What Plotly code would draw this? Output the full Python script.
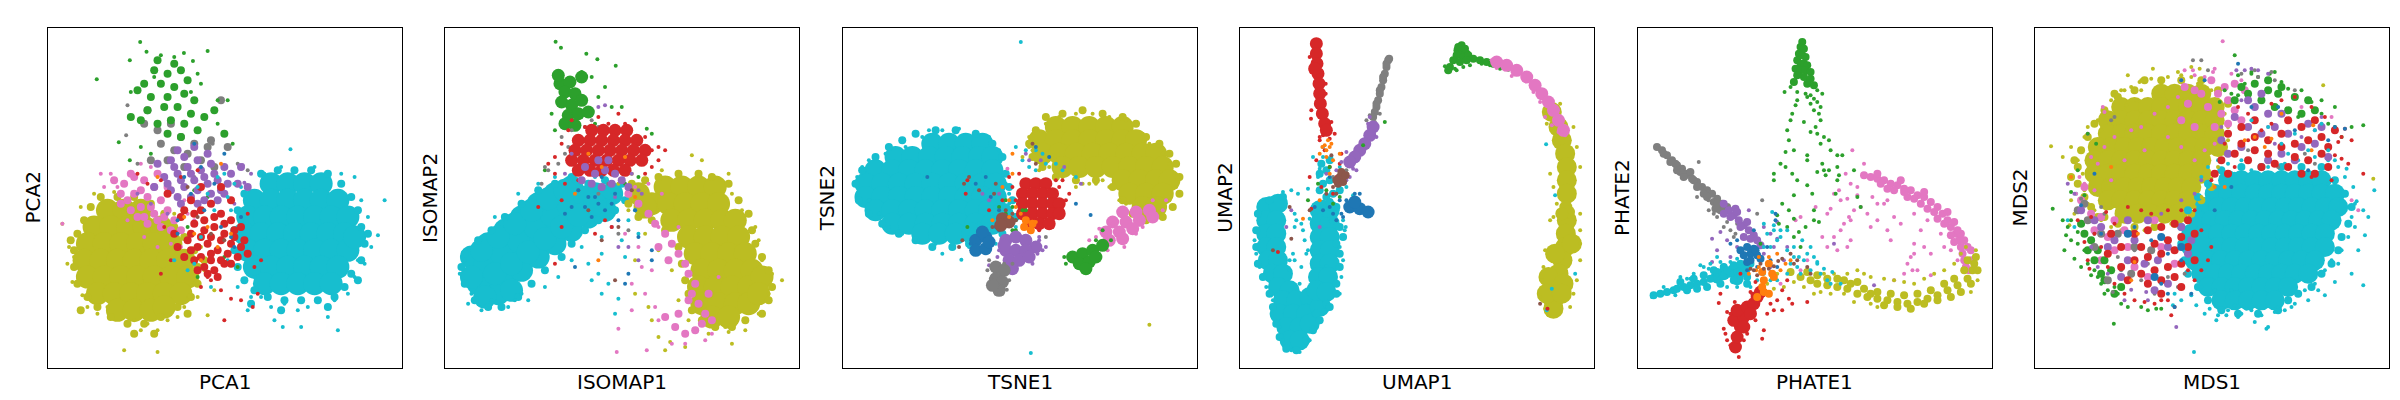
import plotly.graph_objects as go

# ---------------- colours (matplotlib tab10) ----------------
COLORS = {"blue": "#1f77b4", "orange": "#ff7f0e", "green": "#2ca02c", "red": "#d62728",
          "purple": "#9467bd", "brown": "#8c564b", "pink": "#e377c2", "gray": "#7f7f7f",
          "olive": "#bcbd22", "cyan": "#17becf"}

PANEL_NAMES = ["PCA", "ISOMAP", "TSNE", "UMAP", "PHATE", "MDS"]

# Embedding coordinates (arbitrary units, y grows downward).
# ---------------- PCA ----------------
pca_olive_big = [(18,55),(23,55),(28,55),(14,60),(19,60),(24,60),(29,60),(34,60),
    (12,65),(17,65),(22,65),(27,65),(32,65),(37,65),(11,70),(16,70),(21,70),(26,70),(31,70),(36,70),(41,70),
    (12,75),(17,75),(22,75),(27,75),(32,75),(37,75),(42,75),(15,80),(20,80),(25,80),(30,80),(35,80),(40,80),
    (21,85),(26,85),(31,85),(35,84)]
pca_olive_fringe = [(16,51),(21,51),(26,51),(31,53),(35,56),(38,60),(41,63),(44,67),(45,72),(45,77),(43,81),(39,84),
    (34,87),(29,89),(24,89),(19,87),(15,84),(12,81),(9,77),(8,72),(8,67),(9,62),(11,58),(13,54),(7,64),(10,85),(47,70),
    (42,86),(26,92),(32,92)]
pca_olive_dot = [(4.5,59),(7.5,76.5),(23,97),(33,97.5),(33,91),(48,86.5),(6.5,66),(10.5,80.5),(9,62),(14,50),
    (20,49.5),(26,88),(36,88),(41,84),(44,77),(47,73),(46,66),(10,54),(15,86),(28,91),(6,71),(38,56),(42,82),(50,79),
    (24,89),(30,89),(18,84),(8,69),(45,81),(39,87),(12,84)]
pca_cyan_big = [(67,47),(72,47),(77,47),(82,47),(62,52),(67,52),(72,52),(77,52),(82,52),(87,52),
    (60,57),(65,57),(70,57),(75,57),(80,57),(85,57),(90,57),(59,62),(64,62),(69,62),(74,62),(79,62),(84,62),(89,62),
    (60,67),(65,67),(70,67),(75,67),(80,67),(85,67),(90,67),(62,72),(67,72),(72,72),(77,72),(82,72),(87,72),
    (65,77),(70,77),(75,77),(80,77),(85,77),(92,63)]
pca_cyan_fringe = [(64,44),(69,43),(74,43),(79,43),(84,44),(88,47),(91,51),(93,55),(94,60),(95,65),(94,70),(91,74),
    (89,78),(86,81),(81,82),(76,82),(71,82),(66,81),(62,79),(59,76),(57,72),(56,67),(56,61),(57,55),(59,50),(96,62),
    (93,76),(84,84),(70,85),(61,83)]
pca_cyan_dot = [(72.8,36.7),(101,52),(99,62.5),(87,91),(70.5,90),(60,85),(94,52),(97,66),(92,75),(90,80),(81,82),
    (75,85),(67,84),(64,81),(92,45),(88,44),(80,42),(70,42),(65,44),(58,48),(55,55),(54,70),(57,78),(84,87),(94,60),
    (76,90),(71,83),(95,71),(62,75),(96,57),(93,70),(78,84),(86,82),(61,81),(68,88)]
pca_pink_mid = [(20,46),(23,47),(26,45),(29,46),(32,48),(22,50),(26,50),(30,51),(34,52),(28,54),(32,56),(36,55),
    (30,59),(34,60),(38,58),(27,57),(40,61),(25,44),(33,44),(36,48),(22,53),(25,55),(29,57),(33,58),(37,61),(24,52),
    (28,49),(31,54),(35,57)]
pca_pink_dot = [(16,44),(19,44),(4.5,59),(21,48),(17,48),(24,58),(29,63),(33,66),(37,65),(42,56),(31,42),(28,41),
    (41,52),(44,58),(40,66)]
pca_gray_mid = [(29,29),(33,31),(37,29),(40,33),(44,35),(34,35),(38,37),(42,38),(46,40),(49,34),(52,22),(30,25),
    (50,42),(36,40),(31,40),(48,36),(41,42),(54,36)]
pca_gray_dot = [(24,23.5),(23.6,32.5),(52.2,21.7),(49.5,35),(57,41),(44,45),(27,41),(55,44),(60,43)]
pca_green_mid = [(33,10),(38,11),(32,13),(36,14),(40,13),(42,16),(29,17),(34,17),(38,18),(27,19),(31,21),(36,21),
    (41,20),(44,22),(30,25),(35,24),(39,24),(43,26),(47,27),(28,28),(33,29),(37,28),(41,29),(45,31),(36,32),(40,33),
    (50,25),(53,32),(25,27)]
pca_green_dot = [(27.8,4.5),(14.8,15.7),(29.7,7.4),(40.9,7.8),(48,7.2),(24.7,10),(21.4,34.6),(24.7,40),(43.6,10.2),
    (46,17),(51,22),(54,22),(55.5,35),(25,19.5),(34,8.5),(51,29),(28,36),(31,38),(43,19.5),(45,14),(38,9),(32,15),
    (40,46),(44,49),(48,51),(53,69),(45,75),(42,60),(57,72)]
pca_purple_mid = [(33,41),(37,40),(41,39),(45,40),(49,41),(53,42),(35,45),(39,44),(43,44),(47,45),(51,46),(55,44),
    (37,49),(41,48),(45,49),(49,50),(53,50),(58,42),(60,48),(40,53),(45,53),(32,48),(39,37),(44,36),(48,38),
    (38,42),(42,42),(46,43),(50,44),(54,47),(36,47),(40,46),(44,46),(48,47),(52,49),(57,47),(39,51),(43,51),(47,52),(51,52)]
pca_purple_dot = [(58.5,41.5),(59,46.7),(61,44),(56,53),(31,53),(27,50),(36,56)]
pca_red_mid = [(43,52),(46,55),(49,53),(52,56),(55,58),(44,59),(47,61),(50,60),(53,62),(56,63),(59,64),(42,64),
    (45,66),(48,65),(51,67),(54,68),(57,69),(44,70),(47,72),(50,73),(53,71),(40,57),(38,62),(46,48),(36,50),(52,48),
    (55,52),(58,60),(60,68),(49,70),(41,55),(44,56),(47,58),(50,57),(53,59),(56,61),(43,62),(46,63),(49,63),(52,64),
    (55,65),(58,66),(43,67),(46,69),(49,68),(52,70),(55,71),(48,74),(45,73),(51,75),(39,66),(41,69)]
pca_red_dot = [(53,88),(55,81.5),(61.5,84),(58,82),(63,80),(49,76),(52,79),(46,78),(62,72),(64,70),(27,44),(30,47),
    (34,46),(40,45),(45,43),(48,75),(37,70),(35,60),(34,74),(60,56)]
pca_blue_dot = [(44,35),(46,42),(50,47),(47,55),(52,60),(55,63),(58,57),(43,50),(39,62),(56,66),(41,45),(53,38),(39,58)]
pca_cyan_mix = [(45,48),(48,50),(50,55),(46,63),(54,51),(51,45),(44,71),(42,73),(49,78),(38,70),(56,47),(53,44)]
pca_orange_dot = [(52,41),(41,57),(48,60),(44,62),(55,62),(51,66),(33,45),(46,70)]
pca_brown_dot = [(45,57),(49,62),(42,48),(53,64)]

# ---------------- ISOMAP ----------------
iso_cyan_big = [(10,73),(15,70),(20,66),(25,62),(30,58),(35,55),(40,52),(45,50),(50,50),
    (8,69),(13,65),(18,61),(23,57),(28,53),(33,50),(38,48),
    (13,78),(18,76),(23,73),(28,69),(33,65),(38,61),(43,57),(48,55),(16,80),(10,77),(20,79),
    (12,71.5),(17,68),(22,64),(27,60),(32,56.5),(37,53.5),(42,51),(15,74),(20,71),(25,67.5),(30,63.5),(35,60),
    (40,56.5),(45,53),(11,67),(16,63),(21,59),(26,55),(31,51.5),(36,49),(12,81),(8,75)]
iso_cyan_fringe = [(5,72),(6,77),(9,82),(13,84),(17,84),(22,81),(26,77),(30,73),(35,69),(38,65),(42,61),(46,58),
    (51,55),(54,52),(53,47),(48,46),(43,47),(38,45),(33,47),(28,49),(23,53),(18,57),(14,61),(10,64),(6,68)]
iso_cyan_dot = [(4.5,74),(7,83),(11,85),(19,84),(25,82),(46,74),(52,81.5),(54,69),(34,75),(38,70),(41,66),(47,63),
    (50,60),(55,58),(30,78),(43,71),(49,77),(53,64),(57,55),(8,80),(6,70),(15,57),(22,50),(28,47),(33,45),(40,43),
    (45,45),(21,82),(14,82),(23,80),(48,52),(37,55),(47,68),(58,62),(44,76),(51,86),(47,80)]
iso_olive_big = [(66,48),(71,48),(76,48),(81,48),(62,53),(67,53),(72,53),(77,53),(82,53),
    (68,58),(73,58),(78,58),(83,58),(87,58),(73,63),(78,63),(83,63),(88,63),(75,68),(80,68),(85,68),(90,68),
    (77,73),(82,73),(87,73),(92,73),(76,78),(81,78),(86,78),(91,78),(77,83),(82,83),(87,83),(91,83),
    (80,87),(85,87),(58,50),(60,54),(95,75),(94,80)]
iso_olive_fringe = [(64,45),(70,44),(76,44),(80,45),(85,47),(88,52),(91,56),(92,61),(93,65),(95,69),(97,73),(98,78),
    (97,82),(95,86),(90,88),(86,90),(81,90),(77,88),(74,85),(73,80),(72,76),(71,71),(70,66),(66,61),(62,58),(58,57),
    (55,53),(56,47),(60,46)]
iso_olive_dot = [(101,76),(85,44),(74,38.5),(77,40),(66,97),(67.5,94.5),(61,84),(57,70),(55,55),(52,47),(56,44),
    (65,43),(86,50),(89,55),(93,60),(95,70),(97,80),(94,86),(90,91),(84,90),(79,92),(73,88),(70,82),(64,67),(68,73),
    (60,62),(94,64),(64,93),(72,96),(86,95),(62,88),(57,80),(85,91.5),(98,74)]
iso_pink_mid = [(55,50),(58,53),(61,56),(63,59),(66,62),(68,65),(70,68),(72,71),(73,74),(75,77),(74,80),(76,83),
    (78,86),(77,89),(75,91),(72,92),(69,90),(66,87),(70,86),(73,82),(67,70),(64,66),(79,80),(80,88)]
iso_pink_dot = [(52,90.5),(51.5,97.5),(60.5,97),(56,77),(58,66),(54,62),(60,80),(62,73),(70,60),(63,84),(72,95),
    (80,92),(82,75),(64,88),(68,95),(78,94),(56,85),(64,60),(59,72),(50,60),(57,48),(61,47),(65,50)]
iso_green_med = [(34.5,17),(37.5,16.5),(36,19.5),(39,20),(35,22.5),(38,23.5),(41,22),(37,26.5),(40,26),(43,25.5),
    (36,29),(39,29.5),(41,15),(34,14.5)]
iso_green_dot = [(33.2,4.4),(34.8,6.2),(42.4,8),(45.7,9.7),(51.2,11.6),(48,18),(44,15),(41,13.5),(53,24),(50,24),
    (32,26),(33,31),(46,21),(45,29),(30,43),(40,38),(60.5,30.5),(62,32),(54,47),(58,45)]
iso_gray_dot = [(35,33),(38,31),(42,30),(44,28),(46,30),(48,32),(36,38),(34,41),(30,42),(29,47),(43,35),(50,37),
    (54,35),(53,46),(55,61),(52,62),(49,47),(46,50),(40,49),(37,36),(44,32),(31,43)]
iso_red_med = [(44,31),(47.5,31),(51,31),(54.5,31),(40,34),(43.5,34),(47,34),(50.5,34),(54,34),(57.5,34),
    (39,37),(42.5,37),(46,37),(49.5,37),(53,37),(56.5,37),(60,37),(38,40),(41.5,40),(45,40),(48.5,40),(52,40),
    (55.5,40),(59,40),(40,43),(43.5,43),(47,43),(50.5,43),(54,43)]
iso_red_dot = [(31,41),(33,39),(35,35),(37,31),(54,29),(58,35),(62,37),(64,36),(66,37),(60,33),(61,38),(52,26),
    (57,28),(49,29),(46,27),(42,30),(38,28),(33,44),(36,47),(60,44),(62,42),(64,40),(59,41),(40,46),(35,52),(28,54),
    (48,58),(50,60),(45,62),(35,60),(33,71)]
iso_purple_mid = [(42,42),(45,44),(48,43),(51,44),(44,47),(47,48),(50,47),(53,46),(41,46),(49,40),(46,40),(55,48)]
iso_purple_dot = [(48,23.5),(46,24),(38,38),(36,44),(56,44),(58,49),(51,51),(55,66),(58,70),(52,66),(59,50)]
iso_blue_dot = [(40,49),(43,51),(46,53),(48,55),(45,51),(50,53),(39,72),(55,74),(54,77),(62,70),(58,63),(52,58),
    (44,57),(42,54),(38,54),(36,56),(47,45),(51,50),(57,55),(62,67)]
iso_orange_dot = [(39,50),(46,70),(43,38),(54,39),(47,42),(57,51)]
iso_brown_dot = [(51,76),(47,64),(52,60),(43,55),(56,49)]

# ---------------- TSNE ----------------
tsne_cyan_big = [(27,35),(32,35),(37,35),(42,35),(16,39),(21,39),(26,39),(31,39),(36,39),(41,39),(45,39),
    (10,43),(15,43),(20,43),(25,43),(30,43),(35,43),(40,43),(45,43),
    (7,47),(12,47),(17,47),(22,47),(27,47),(32,47),(37,47),(42,47),(46,47),
    (7,51),(12,51),(17,51),(22,51),(27,51),(32,51),(37,51),(42,51),(46,51),
    (10,55),(15,55),(20,55),(25,55),(30,55),(35,55),(40,55),(44,55),(48,56),
    (15,59),(20,59),(25,59),(30,59),(35,59),(40,59),(45,59),(24,62),(29,62),(34,62),(39,62)]
tsne_cyan_fringe = [(22,32),(28,31),(34,31),(40,32),(45,35),(48,39),(49,44),(50,48),(51,52),(52,57),(48,62),(43,63),
    (38,65),(33,66),(27,66),(22,64),(17,62),(12,59),(8,56),(5,52),(4,47),(6,43),(10,39),(14,36),(18,34)]
tsne_cyan_dot = [(53.5,4.5),(56.5,97.8),(30,68),(35.7,69.8),(4.5,45),(6,42),(8,52),(11,56),(14,60),(18,62),(22,64),
    (28,65),(33,65),(38,63),(43,62),(47,60),(51,57),(53,54),(49,44),(47,37),(44,33),(40,32),(35,30.5),(30,31),(24,33),
    (19,36),(13,38),(8,40),(26,31),(50,50),(46,65),(38,66),(54,40),(56,42),(58,43),(60,38),(61,41),(58,47),(55,58),
    (52,60),(48,63),(42,66),(57,52),(50,53),(62,52),(66,43),(70,45),(64,41),(58,37),(55,37),(52,36),(48,58),(45,57),
    (41,59),(44,51),(46,54),(49,47)]
tsne_olive_big = [(64,30),(69,30),(74,30),(79,30),(84,30),(59,34),(64,34),(69,34),(74,34),(79,34),(84,34),(88,34),
    (60,38),(65,38),(70,38),(75,38),(80,38),(85,38),(90,38),(94,38),(66,42),(71,42),(76,42),(81,42),(86,42),(91,42),
    (96,42),(84,46),(89,46),(94,46),(98,46),(86,50),(91,50),(96,50),(90,54),(94,54)]
tsne_olive_fringe = [(61,27),(66,26),(72,25),(78,26),(84,27),(88,29),(91,33),(95,35),(98,38),(100,41),(101,45),
    (101,50),(99,54),(96,57),(91,58),(87,56),(84,52),(81,48),(76,46),(70,46),(64,45),(60,42),(57,39),(56,35),(58,31)]
tsne_olive_dot = [(92,89.3),(56,33),(57,37),(58,40),(62,42),(66,45),(72,47),(76,47),(80,48),(83,52),(87,56),(91,57),
    (95,56),(98,52),(100,48),(101,45),(98,41),(96,38),(92,35),(90,32),(87,29),(85,28),(80,27),(75,26),(70,26),(65,27),
    (61,29),(58,31),(56,36),(74,47),(78,46),(59,43),(54,39),(85,53),(96,54),(70,48)]
tsne_red_med = [(55,47),(58,47),(61,47),(54,50),(57,50),(60,50),(63,50),(54,53),(57,53),(60,53),(63,53),(65,53),
    (54,56),(57,56),(60,56),(63,56),(65,56),(56,59),(59,59),(62,59)]
tsne_red_dot = [(51,48),(52,52),(53,56),(55,60),(59,61),(63,60),(66,55),(67,52),(68,50),(65,48),(64,46),(53,44),
    (37.5,46),(37,50),(44,55),(47,57),(41,62),(50,45),(51,58),(48,52),(66,46)]
tsne_pink_med = [(84,55.5),(88,55.5),(92,55),(81,58.5),(85,58.5),(89,58),(93,57),(79,61.5),(83,61.5),(87,60.5),
    (80,64),(84,63.5)]
tsne_pink_dot = [(77,60.5),(78,66),(79.5,67),(93,52),(96,55),(97,52),(76,63),(88,62),(90,60),(49.5,42.5),(81,59),
    (84.5,66),(74,64)]
tsne_green_med = [(69,69),(72,68),(75,67),(78,65.5),(71,71),(74,70.5),(73,72.5),(76,69)]
tsne_green_dot = [(66.5,69),(67,71),(80.5,64),(78,61),(76,64),(51,54),(50,58),(52,61),(55,55),(37.5,60),(49,52),
    (47,54),(49,56),(52,58),(54,55),(51,61)]
tsne_blue_med = [(40,64),(43,63),(40,67),(43,66.5),(42,61.5),(44,64.5)]
tsne_blue_dot = [(38.5,65),(45,64),(47,61),(48.5,57),(46,60),(44.5,51),(43,45),(58,36),(62,39),(74.4,56.4),(70,53),
    (40,47),(25.5,45),(47,55)]
tsne_purple_med = [(49,64),(52,63),(55,64),(58,66),(49,67),(52,67),(55,67),(50,70),(53,70),(56,69),(51,72.5),(48.5,65.5)]
tsne_purple_dot = [(59,63),(60,67),(57,71),(47,67),(47,71),(58.5,68),(59,64),(61,66),(46.5,69),(44,71.5),(71.5,47),
    (66.5,42),(59.5,40),(56,40),(55,38),(42,50),(44,52),(47,50)]
tsne_gray_med = [(46,72),(48.5,73),(46,75.5),(48,76.5),(47,79),(45,77.5)]
tsne_gray_dot = [(44,70),(43.5,73),(44.5,75.5),(50,76),(49.3,78.8),(48.5,71),(61,63),(51,71),(46,80),(48,80)]
tsne_brown_med = [(48,57.5),(50,58.5),(47.5,59.5)]
tsne_brown_dot = [(45,60),(52,58),(51,56),(49,55),(35,66),(36,64),(57,35),(58,41),(36.5,47),(38,45),(41,49),(46,47),(45.5,50)]
tsne_orange_mid = [(55,58),(57,59),(54.5,60),(56.5,61)]
tsne_orange_dot = [(51,38),(51,44),(50,57),(52,54),(53.5,56),(58,58.5),(48,48),(50,52),(45,58)]

# ---------------- UMAP ----------------
umap_cyan_big = [(8,54),(11.5,53),(8,58),(11,58),(8,62),(11,62),(8,66),(11,66),(8.5,70),(11.5,70),(10,74),(13,74),
    (11.5,78),(15,79),(13,82),(17,82),(21,81),(12,86),(16,86),(20,86),(24,84),(14,90),(18,90),(21,89),(15,94),(18,94),
    (24,55),(27,55),(24,59),(27,59),(24,63),(27,63),(24,67),(27,67),(24,71),(27,71),(23.5,75),(26.5,75),(23,79),(26,79.5)]
umap_cyan_mid = [(24,44),(26,43),(27,46),(25,47),(24,49),(26,51),(28,50),(30,49),(25,53),(27,52.5),(29,54),(24.5,41),
    (27,40),(26,56),(28,58),(30,60),(31,63),(29,65),(30,68),(30,72),(29,77),(29,80),(26,83),(23,86),
    (5.5,56),(5,61),(5,66),(5.5,71),(7,75),(9,80),(10,84),(11,89),(12,93),(14,96.5),(17,97),(20,94),(22,91),(24,88),
    (27,84),(13,51),(9,52)]
umap_cyan_dot = [(13,49.5),(15.5,49),(17.5,50),(20.5,48.5),(25,36),(27.5,39),(24,42.5),(23.5,45),(22,39),(30,42),
    (32,48),(34,50.5),(31,58),(31.5,61),(30,66),(31,70),(30.5,75),(4.5,64),(5,68),(6,72),(8,78),(10,82),(12,90),(13,94),
    (15.5,97),(18,97.5),(21,94),(22,90),(25,85),(20,68),(19.5,64),(19,61),(17,58),(16.5,60),(16.5,70),(18,77),(15,73),
    (21,57.5),(18.5,72),(30,80),(31.8,60),(25,39),(26,71.7),(16.5,56),(18.5,59),(16,68),(15,70),(20.5,67),
    (91.8,35.2),(94.5,50.5),(93.5,78.5),(92,85),(100.5,74)]
umap_red_med = [(23,5),(23,8),(23.2,11),(23.5,14),(23.8,17),(24,20),(24.2,23),(24.8,26),(25.5,29),(26,31),(22.5,12.5)]
umap_red_dot = [(21.5,25),(25,32.5),(27,33.5),(28.5,32),(24,34),(25.5,37),(23,40),(27,42),(29,45),(21,45),(24.5,48),
    (28,50),(11.5,67.5),(21.5,54.5),(30,41),(30.5,38),(92.2,84.5),(24,33),(25.8,20),(21.4,27.5),(21.5,13.5),(25.8,17),
    (27.5,28.5),(21,9)]
umap_orange_dot = [(26.5,34),(27,36),(25.5,35.5),(24.8,36),(27.5,35),(26,37),(24,38),(26,39),(28,40),(30,38),(24,52),
    (19,57.5),(29,47),(27,44)]
umap_gray_mid = [(44.5,10),(44,12),(43.5,14),(43,16),(42.5,18),(42,20),(41.5,22),(41,24),(40.5,25.5),(40,27),(43,15),
    (44,11),(42,19),(41,23),(44.8,9.5)]
umap_gray_dot = [(39,26.5),(40.5,28.5),(38,28),(42,26),(31,44),(32,43),(33,41),(28,45)]
umap_purple_med = [(40,30),(39,32.5),(37.5,35),(36,37),(34.5,39),(33,40.5)]
umap_purple_dot = [(39,27),(38.5,29),(32,37.5),(30.5,40.5),(34,42.5),(31,43.5),(33,45),(26,44),(29,43),(41,33),
    (15.5,55),(14,60),(24,60),(32,46),(35,43)]
umap_green_med = [(66,7),(67.5,8.5)]
umap_green_mid = [(66.5,5.5),(66,7),(65,8.5),(67,9),(68.5,8.5),(64,10),(66,10.5),(70,9.5),(72,10),(74,10.5),(63,12),
    (62.5,13),(68,10),(76,11),(65.5,6),(67.5,6.5)]
umap_green_dot = [(64.5,12.5),(65,13),(62,13.2),(72.5,11),(75,11.5),(78,12.5),(80.5,12.8),(67,12),(69,11.5),(61.5,11.8),
    (43.5,28.5),(37,35.5),(27,42),(30,46),(23.5,47),(26,49),(20.5,52),(28,53),(30,51)]
umap_pink_med = [(77,10.5),(80,11.5),(83,13),(86,15),(88.5,17.5),(90.5,20),(92.5,22.5),(94,25),(95.5,28),(97,31)]
umap_pink_dot = [(75.5,10),(77,12.3),(95.5,31.5),(97.5,32.5),(91.5,27),(93.5,29.5),(81.5,14.7),(88,19.5),(90,22.5)]
umap_olive_big = [(93.5,25.5),(95.5,30),(96.5,34),(97.5,38),(98,42),(98,46),(98,50),(98,58),(97.7,62),(97.5,66),
    (96.7,70),(95.5,74),(94.5,78),(94,82),(94,84.5),(99.5,65),(94.5,68),(92.5,75),(97,77),(92,80),(96.5,80)]
umap_olive_med = [(97.7,54),(98.5,55.5),(96.5,56)]
umap_olive_dot = [(92,26),(94,24),(96,23),(92,29),(100,30),(101,36),(102,42),(93,44),(94,48),(95,53),(102,56),(93,58),
    (102,61),(102,65),(91.5,67),(102,70),(91,72),(101,76),(90.5,76),(100,80),(90,81),(99,84),(91.5,84.5),(92.5,86.5),
    (95.5,86),(94,57),(100,57)]
umap_blue_med = [(33,54),(36,54.5),(38.5,55.5),(34.5,52.5)]
umap_blue_dot = [(36,50),(30,52),(31,57),(28,56),(27,54),(25,55),(27,45),(22.5,54),(32,52),(30.5,56),(29,58),(34.5,50)]
umap_brown_mid = [(30,45),(31,46.5),(29.5,47),(30.5,43.5),(31.8,44.5),(29,46)]
umap_brown_dot = [(28,48),(26,50),(29,50),(21,55),(15,54),(15.5,63.5),(10,67),(90,83),(27.5,38.5)]

# ---------------- PHATE ----------------
phate_gray_mid = [(6,36),(7.5,37),(9,38.5),(10.5,40),(12,41.5),(13.5,42.5),(15,44),(16.5,45.5),(18,46.5),(19.5,48),
    (21,49),(22.5,50),(24,51.5),(25.5,53),(27,54),(11.5,41),(14.5,44.5),(17,46),(20,50),(23,52.5),(25,55),(13,43.5),
    (16,43.5),(8,38),(10,40.5),(12,43),(26,55),(24,53),(14,45),(18,48),(21,51),(23.5,54.5)]
phate_gray_dot = [(18.5,40.5),(18,51),(21.4,52),(23,56),(24,57),(26,60),(28,61),(29,63),(30,59),(37.5,52),(36,56),
    (32,59),(21.5,55),(29.5,62),(27,58.5)]
phate_purple_mid = [(26,53),(27.5,55),(29,56.5),(30.5,58),(32,59.5),(33.5,61),(35,62.5),(28,57),(31,60),(34,63.5),
    (36,64),(29.5,54.5),(33,58.5),(26,56),(30,55.5),(37,65.5),(32,63)]
phate_purple_dot = [(22.5,63.5),(25,61.5),(27,64),(24,67),(33.5,55),(38,60),(40,62),(42,63.5),(45,66),(41,66),(38,68),
    (40,72),(30,66),(28,69),(22.5,70.5),(59,65),(42,58.5),(71,77.5),(44,70)]
phate_blue_mid = [(33,66),(35,66.5),(34,68),(36,68.5),(32,68.5),(34,70),(35.5,67),(33,70.5),(37,69.5),(31,67)]
phate_blue_dot = [(35,61),(41.5,58),(41.5,56),(30,64),(39,66),(40,70),(33,73),(28,65),(36,72),(37.5,74),(42,72)]
phate_cyan_med = [(26,74),(29,73),(32,73),(30,75.5),(24,75)]
phate_cyan_mid = [(5,80.5),(7,80),(9,79.5),(11,79),(12,78.5),(14,78),(16,77.5),(18,77),(20,76.5),(22,75.5),(24,75),
    (26,74.5),(28,74),(30,73.5),(32,73),(17,75.5),(20,74.5),(23,73),(26,72),(29,71.5),(31,71),(21,78),(25,77),(29,76),
    (33,75),(27,73),(24,73.5),(13,76.5),(15,79),(18,78.5),(31,74),(34,71),(33,77)]
phate_cyan_dot = [(4.5,81),(8,78),(11.5,80.5),(13,75),(16,75.5),(17,74),(20,72),(22,71),(25,70.5),(21.5,72.5),(26,71.5),
    (28,70.5),(30,69.5),(32,68),(34,67),(36,67),(38,66),(40,66),(42,64),(41,61),(43,61),(45,67),(47,69),(48,72),(50,70),
    (51,68),(53,69),(54,71),(55,74),(57,76),(58,77),(61,77),(24,69),(24,74.5),(34,78),(36,76),(38,74),(40,76),(42,76),
    (45,74),(46,71),(49,74),(30,78),(27,78),(19,71.5),(15,75.5),(52,73),(39,62),(40.5,55.5),(38,59),(41,59.5),(43,63),
    (45,61),(47,66),(48.5,69),(52,66),(49.5,64),(54,70.5),(56,72.5),(58.5,73.5)]
phate_red_med = [(29.5,96),(30,93),(31,90),(29,88),(32,87),(30,85),(33,84),(35,83),(36,81),(32,90),(34,86),(37,79.5)]
phate_red_dot = [(24.5,82.8),(27,85.5),(28,86),(26,90.5),(26.5,92),(27,94),(28,95.5),(30.5,99),(32,94),(33,92),
    (35.5,88),(37.5,93.5),(38,91),(41,85),(43.5,85),(42,82),(40,83),(39,86),(43.5,79),(45.5,81.5),(46.5,83),(51,82.5),
    (45,76),(35.5,76.5),(34,79.5),(34.5,80),(31,74),(25,80),(29.3,82.5)]
phate_orange_mid = [(38,79.5),(39.5,80),(37.5,78),(36,81),(40.5,74),(41,75),(39.5,71),(37.5,73.5),(38,76)]
phate_orange_dot = [(35.7,73),(36.5,72),(43,73),(44.5,71),(46,70),(33.5,74),(36.5,69),(42,68),(39.5,69)]
phate_brown_dot = [(37,71),(38,72.5),(39.5,72.5),(41,71.8),(35,73),(42.3,70.2),(43.5,69.5),(46,68),(47,71),(48,70),
    (36,74.5),(34,72.5),(51,72),(52,74)]
phate_green_mid = [(49.5,4.5),(49,6),(50,6.5),(48.5,8),(49.5,8.5),(50.5,9),(48,10),(49,11),(50,11),(51,11.5),(47.5,12.5),
    (49,13),(50.5,13),(52,13.5),(48,14.5),(50,15),(52,15.5),(47,16.5),(51,17),(53,17.5)]
phate_green_dot = [(44.2,19.5),(46,18),(48,19.5),(50.5,20),(52,20.5),(54,19),(55.5,20),(48,22),(51,21),(53,21.5),
    (47.5,23.5),(52,23),(54,22.5),(55,24),(46.5,26),(53,25),(54.5,26),(46,28),(50,28.5),(55,28),(45,31),(52,31.5),(54,32),
    (56,33),(53.5,30),(45.5,34),(47,37),(44.5,37.5),(51,38.5),(57.5,34),(58,37),(55,35),(60,38.5),(61.5,38.5),(43,41),
    (44.5,42),(41,44),(51,40),(55.5,41),(56,43),(57.5,43),(60,42),(60.5,44.5),(65,43),(41,46),(46.5,44),(48,46),(51,47.5),
    (56.5,44.5),(54,43.5),(47,50.5),(52.5,50),(43.5,53),(45.5,55),(42,56.5),(47,57.5),(53,55),(53,58),(54.5,58.5),(45,60),
    (42.5,59),(49,66),(47,63),(48.5,61.5),(50.5,60),(37,65),(36.5,68.5),(34,70.5),(67,54),(66,51),(60,46),(59.5,50)]
phate_pink_mid = [(68,44.5),(70,45),(72,45.5),(74,46),(76,47),(78,47.5),(80,48.5),(82,49),(84,50.5),(86,51),(88,52.5),
    (90,54),(91.5,56),(93,58),(94,60),(95.5,62),(96.5,64),(97,66),(97.5,68),(98,70),(98.5,72),(73,47),(77,49),(81,51),
    (85,53),(89,55.5),(92,59),(95,64.5),(97,62),(99,66),(100,70),(72,44),(79,46),(86,49.5),(93,55.5),(96,61),(100,67),
    (99.5,73),(75,48.5),(83,51.5),(90,57.5),(94,62.5),(98,64),(95,58.5),(87,54.5),(80,49.5)]
phate_pink_dot = [(64.5,37),(68,41),(62.5,44),(64,47),(66,50.5),(61,52),(59,50),(58,54.5),(57,56),(49,57),(53.5,54),
    (65,55),(63.5,57),(62,59),(64,58),(70.5,51),(72,53),(74,53),(77,57),(79,59),(83,56),(85,61),(87,58),(91,62),(86,66),
    (83,65),(88,68),(92,66),(94,67),(96,70),(82,69),(81,71),(84,73),(80,74),(77,76),(61,61),(59,63),(57,66),(63,66),
    (67,54),(69,56),(72,58),(75,61),(76,64),(60,67),(70,60),(83,68),(82.5,73),(88,74.5),(55.5,63),(64,64),(51,70),(49,73),
    (46,74),(43,77),(47.5,58),(60.5,49),(63,51.5),(75,52),(66,48)]
phate_olive_mid = [(54,77),(57,77.5),(60,78),(63,78.5),(66,80),(69,81),(72,81.5),(75,82),(78,82.5),(81,83),(84,82.5),
    (87,81.5),(90,80.5),(93,79),(96,77.5),(99,75.5),(100.5,73),(101,71),(64,77),(68,78.5),(72,79.5),(76,80),(80,80.5),
    (84,80),(88,79),(92,77),(95,75.5),(98,73),(99,70),(101.5,69),(62,76),(66,76.5),(60,75.5),(70,80),(74,83.5),(78,84),
    (82,84.5),(86,83),(90,82),(94,81),(97,79.5),(100,77),(102,73),(57,75.5),(54,74.5),(51,73.5),(49,75),(46,73.5),(52,76)]
phate_olive_dot = [(41,78.5),(44,78),(47,76.5),(50,78),(53,80),(55,79.5),(58,80),(62,80),(65,82.5),(70,83),(72,84),
    (56,74),(59,74),(63,74),(66,73),(68,74),(70,75),(74,75.5),(77,76),(80,76.5),(83,77),(86,75.5),(89,74),(92,73),(95,71),
    (97,68),(98.5,66),(101.5,67),(102,76),(100,79.5),(42,74),(39,77)]

# ---------------- MDS ----------------
mds_olive_big = [(38,20),(42,20),(46,20),(50,20),(26,24),(30,24),(34,24),(38,24),(42,24),(46,24),(50,24),(54,24),
    (22,28),(26,28),(30,28),(34,28),(38,28),(42,28),(46,28),(50,28),(54,28),
    (22,32),(26,32),(30,32),(34,32),(38,32),(42,32),(46,32),(50,32),(54,32),
    (19,36),(23,36),(27,36),(31,36),(35,36),(39,36),(43,36),(47,36),(51,36),(55,36),
    (18,40),(22,40),(26,40),(30,40),(34,40),(38,40),(42,40),(46,40),(50,40),
    (18,44),(22,44),(26,44),(30,44),(34,44),(38,44),(42,44),(46,44),(50,44),
    (19,48),(23,48),(27,48),(31,48),(35,48),(39,48),(43,48),(47,48),
    (22,52),(26,52),(30,52),(34,52),(38,52),(42,52),(46,52),(27,56),(31,56),(35,56),(39,56),(43,56)]
mds_olive_fringe = [(30,19),(25,21),(21,25),(18,29),(16,33),(14,37),(13,42),(13,47),(15,51),(17,54),(21,57),(25,59),
    (30,60),(36,60),(42,59),(47,56),(50,52),(53,48),(24,20),(33,16),(38,16),(44,16),(50,16),(55,19),(58,23),(12,40),
    (11,45),(19,57)]
mds_olive_dot = [(5,35.8),(8.5,39),(11,36),(13,40),(14.5,44),(15,49),(16,53),(18,55),(20,58),(23,60),(26,61),(29,61.5),
    (33,61),(37,60),(41,59),(45,57),(48,54),(50,51),(12,56),(11,52),(15,33),(16,30),(19,28),(21,25),(23,22),(26,19),
    (29,18),(32,16),(35,15.5),(40,15),(44,14.5),(47,15),(49,17),(53,19),(55,22),(57,26),(58,30),(58,34),(57,38),(55,42),
    (53,45.5),(28,14.5),(32,19),(27,19),(22.5,29),(20,31),(31.5,16.5),(27.5,23.5),(35.5,12.5),(43,13.5),(86.5,17.5),
    (101.5,45.5),(10.5,59.5),(49.5,12.5),(47,12),(30.5,22)]
mds_cyan_big = [(58,46),(62,46),(66,46),(70,46),(74,46),(78,46),(82,46),(86,46),
    (54,50),(58,50),(62,50),(66,50),(70,50),(74,50),(78,50),(82,50),(86,50),(90,50),
    (51,54),(55,54),(59,54),(63,54),(67,54),(71,54),(75,54),(79,54),(83,54),(87,54),(91,54),
    (49,58),(53,58),(57,58),(61,58),(65,58),(69,58),(73,58),(77,58),(81,58),(85,58),(89,58),
    (47,62),(51,62),(55,62),(59,62),(63,62),(67,62),(71,62),(75,62),(79,62),(83,62),(87,62),
    (47,66),(51,66),(55,66),(59,66),(63,66),(67,66),(71,66),(75,66),(79,66),(83,66),(87,66),
    (48,70),(52,70),(56,70),(60,70),(64,70),(68,70),(72,70),(76,70),(80,70),(84,70),
    (50,74),(54,74),(58,74),(62,74),(66,74),(70,74),(74,74),(78,74),(82,74),
    (52,78),(56,78),(60,78),(64,78),(68,78),(72,78),(76,78),(56,82),(60,82),(64,82),(68,82),(72,82)]
mds_cyan_fringe = [(56,43),(62,42),(68,42),(74,42),(80,42),(86,42),(90,46),(93,50),(95,54),(94,59),(92,63),(91,67),
    (89,71),(86,74),(83,78),(79,80),(76,82),(73,85),(67,86),(61,86),(56,85),(52,82),(49,78),(46,74),(45,70),(44,65),
    (44,60),(46,55),(49,51),(52,47)]
mds_cyan_dot = [(47.8,97.5),(51,86),(52.5,84.5),(55,86.5),(58,85),(60,83.5),(62,86),(65,85),(68,86.5),(70,90),(72,85.5),
    (75,85),(78,83),(81,79),(84,77),(87,73),(89,70),(92,67),(94,63),(95,57),(96,53),(95.5,48),(93,45),(91,42),(88,40),
    (84,39),(79,40),(75,41),(70,42),(65,43),(60,44),(56,46),(96.5,52.3),(98.5,77.5),(100,57),(101.8,49),(99,62.5),(97,67),
    (95,74),(90,76.5),(87,80.5),(82,82),(77,84),(54.5,88),(61,87),(66,88.5),(73,84),(85,79),(91,71),(96,60),(98.5,55),
    (92,52),(93.5,42.5),(88,47),(59,79),(54,79),(50,78),(47,80.5),(44,82),(48.5,83.5),(41.5,83.5),(42,80),(49,51),(52,48),
    (56,43.5),(58,41),(55,40),(52,42),(50,45),(10,58),(12,60),(20,60),(12.5,50),(69.5,90.5),(57.5,86.5),(63.5,84.5)]
mds_pink_mid = [(55,20),(58,22),(56,26),(60,25),(54,30),(58,29),(52,24),(62,28),(57,18),(60,17),(63,19),(50,20),(53,16),
    (48,19),(45,18),(46,23),(44,28),(48,30),(17,56),(20,57),(24,58),(27,61),(18,61),(22,63),(24,67),(28,66),(30,72),
    (34,75),(38,66),(42,71),(14,52),(15,48),(20,70),(36,58)]
mds_pink_dot = [(56.4,4.3),(45,13),(48,14.5),(53.5,13.5),(47.5,13),(51,15),(44,16),(54,12.5),(62,16),(59,14),(43,21),
    (40,24),(36,26),(32,30),(29,31),(24,33),(21,36),(17,39),(13.5,45),(12.5,50),(14,54.5),(15,47),(20.5,24),(21,25.5),
    (16,32),(19,41),(18,49),(23,46),(27,40),(33,37),(40,33),(44,36),(48,40),(51,37),(54,35),(89,27),(80,24),(70,30),
    (97,55),(95,52)]
mds_green_mid = [(62,18),(66,17),(70,16),(74,18),(78,21),(82,22),(68,22),(72,24),(76,25),(80,26),(84,25),(60,22),(64,20),
    (73,20),(70,19),(15,62),(17,64),(19,67),(21,70),(23,73),(14,59),(18,70),(20,74),(24,80),(16,67),(21,76),(26,78)]
mds_green_dot = [(60,8.5),(61,14.5),(65,14),(70.5,14),(72,13.5),(74,16.5),(76,18.5),(80,19),(83,22.5),(86,26),(88,29),
    (90,30),(92,33),(86,22),(98.5,29.5),(95,30),(90,24),(84,25.5),(79,27),(67,15),(63,17),(57,19),(59,20),(55.5,22.5),
    (61,20.5),(65,13.5),(9.5,62.5),(11,64),(9,67),(5.5,54.5),(8.5,58),(10,60),(13,65),(15,67),(16,71),(18,73),(19,75),
    (20,77),(22,79),(24,78),(25,80),(32,84),(38,84.5),(23.8,89),(36.5,84.5),(12,69.5),(14,72),(17,74.5),(21,80),(26,83),
    (28,84),(34,85),(13,61.5),(11,58),(18.5,35),(16,32),(13,43),(11,49.5),(15,50.5)]
mds_gray_mid = [(16,58),(20,62),(25,62),(30,66),(35,67),(22,76),(29,74),(18,66),(13,55),(15,53)]
mds_gray_dot = [(47.5,10),(50,10),(52,13),(62,14),(67,15),(71,13.5),(23,28),(24,27),(66,13),(72,16),(78,19),(81,38),
    (84,41),(73,42),(64,37),(20,54),(21,56),(14,51.5),(13,54.5),(16,58),(26,73),(23.5,79.5),(30,67),(34,71),(40,75),
    (43,78),(36,80),(32,76),(25,69),(18,62),(45,74),(28,58)]
mds_purple_mid = [(60,27),(64,30),(68,32),(72,30),(76,32),(80,36),(84,35),(88,39),(62,36),(70,40),(74,38),(78,40),
    (66,24),(70,26),(74,26),(82,29),(86,30),(58,38),(56,34),(64,22),(68,20),
    (20,60),(24,64),(28,70),(30,64),(33,71),(37,70),(40,66),(28,58),(34,58),(22,66),(26,75),(36,79),(44,60),(47,64),
    (40,77),(46,68),(18,58),(14,55)]
mds_purple_dot = [(29,78.8),(33.5,79.5),(42.5,90),(60.5,13),(63,13),(67,13),(70,14),(65,12.5),(62,22),(56,30),(72,35),
    (86,27),(84,31),(80,33),(50,46),(48,50),(44,52),(38,56),(17,66),(19,72),(22,74),(27,82),(34,82),(12,50),(10,47)]
mds_red_mid = [(58,32),(62,35),(66,37),(70,38),(74,36),(78,39),(82,40),(86,38),(60,38),(64,40),(68,42),(72,41),(76,42),
    (80,44),(84,44),(88,42),(62,30),(66,33),(70,34),(74,32),(78,35),(82,34),(86,33),(88,36),(56,40),(54,44),(58,44),
    (66,28),(76,28),(80,30),(90,31),(84,28),
    (30,62),(34,61),(38,60),(42,59),(46,58),(32,66),(36,65),(40,64),(44,63),(48,62),(30,70),(34,69),(38,68),(42,67),
    (46,66),(32,74),(36,73),(40,72),(44,71),(34,77),(38,76),(42,75),(26,66),(26,72),(28,76),(23,62),(38,80),(44,78),
    (48,70),(22,68)]
mds_red_dot = [(95,34),(91,34.5),(93,30.5),(90,38.5),(92,39.5),(98.5,44),(94,41),(89,46),(83,45),(60,42),(53,46),(57,35),
    (61,24),(64,26),(74,22),(71,23),(78,21),(83,24),(87,27),(92,33),(71,29),(68,31),(64,34),
    (16,70),(18,62),(20,66),(22,72),(24,77),(27,80),(30,82),(33,82.5),(36,83),(38,82),(40,82),(41,86.5),(42,84),(48,76),
    (50,73),(52,70),(53,66),(50,61),(46,73),(16.5,72.5),(15,64.5),(21.5,55.5),(17,57),(35,56),(44,55),(48,55),(13,58),
    (24,59),(28,54),(40,55),(32,55)]
mds_blue_mid = [(38,63),(44,66),(36,75),(28,62)]
mds_blue_dot = [(61,11),(51,16),(44,16),(65,24),(73,24),(78,31),(88,34),(90,30),(93,30.5),(82,43),(59,48),(54,55),
    (44,70),(38,77),(20,62),(14,53.5),(18,44),(47,80),(40,80),(35,64),(40,68),(30,60),(42,84)]
mds_orange_dot = [(11,45),(23,42),(63,34),(66,33),(71,33.5),(74,26),(83,37),(69,36),(54,48),(31,62),(29,76),(30,70.5),
    (57,48),(83.5,29.5)]
mds_cyan_mix = [(70,30),(78,32),(84,31),(65,28),(86,29),(74,35),(82,37),(88,37),(90,40),(62,40),(76,38)]

# ---------------- layers (draw order) per panel ----------------
LAYERS = [
    [("olive","big",pca_olive_big),("cyan","big",pca_cyan_big),("olive","mid",pca_olive_fringe),
     ("cyan","mid",pca_cyan_fringe),("olive","dot",pca_olive_dot),("cyan","dot",pca_cyan_dot),
     ("pink","mid",pca_pink_mid),("pink","dot",pca_pink_dot),("gray","mid",pca_gray_mid),("gray","dot",pca_gray_dot),
     ("green","mid",pca_green_mid),("green","dot",pca_green_dot),("purple","mid",pca_purple_mid),
     ("purple","dot",pca_purple_dot),("red","mid",pca_red_mid),("red","dot",pca_red_dot),("blue","dot",pca_blue_dot),
     ("cyan","dot",pca_cyan_mix),("orange","dot",pca_orange_dot),("brown","dot",pca_brown_dot)],
    [("cyan","big",iso_cyan_big),("olive","big",iso_olive_big),("cyan","mid",iso_cyan_fringe),
     ("olive","mid",iso_olive_fringe),("cyan","dot",iso_cyan_dot),("olive","dot",iso_olive_dot),
     ("pink","mid",iso_pink_mid),("pink","dot",iso_pink_dot),("green","med",iso_green_med),("green","dot",iso_green_dot),
     ("gray","dot",iso_gray_dot),("red","med",iso_red_med),("red","dot",iso_red_dot),("purple","mid",iso_purple_mid),
     ("purple","dot",iso_purple_dot),("blue","dot",iso_blue_dot),("orange","dot",iso_orange_dot),("brown","dot",iso_brown_dot)],
    [("cyan","big",tsne_cyan_big),("olive","big",tsne_olive_big),("cyan","mid",tsne_cyan_fringe),
     ("olive","mid",tsne_olive_fringe),("cyan","dot",tsne_cyan_dot),("olive","dot",tsne_olive_dot),
     ("red","med",tsne_red_med),("red","dot",tsne_red_dot),("pink","med",tsne_pink_med),("pink","dot",tsne_pink_dot),
     ("green","med",tsne_green_med),("green","dot",tsne_green_dot),("blue","med",tsne_blue_med),("blue","dot",tsne_blue_dot),
     ("purple","med",tsne_purple_med),("purple","dot",tsne_purple_dot),("gray","med",tsne_gray_med),("gray","dot",tsne_gray_dot),
     ("brown","med",tsne_brown_med),("brown","dot",tsne_brown_dot),("orange","mid",tsne_orange_mid),("orange","dot",tsne_orange_dot)],
    [("cyan","big",umap_cyan_big),("cyan","mid",umap_cyan_mid),("olive","big",umap_olive_big),("olive","med",umap_olive_med),
     ("olive","dot",umap_olive_dot),("cyan","dot",umap_cyan_dot),("red","med",umap_red_med),("red","dot",umap_red_dot),
     ("gray","mid",umap_gray_mid),("gray","dot",umap_gray_dot),("purple","med",umap_purple_med),("purple","dot",umap_purple_dot),
     ("green","med",umap_green_med),("green","mid",umap_green_mid),("green","dot",umap_green_dot),("pink","med",umap_pink_med),
     ("pink","dot",umap_pink_dot),("blue","med",umap_blue_med),("blue","dot",umap_blue_dot),("orange","dot",umap_orange_dot),
     ("brown","mid",umap_brown_mid),("brown","dot",umap_brown_dot)],
    [("gray","mid",phate_gray_mid),("gray","dot",phate_gray_dot),("purple","mid",phate_purple_mid),("purple","dot",phate_purple_dot),
     ("pink","mid",phate_pink_mid),("pink","dot",phate_pink_dot),("olive","mid",phate_olive_mid),("olive","dot",phate_olive_dot),
     ("green","mid",phate_green_mid),("green","dot",phate_green_dot),("cyan","med",phate_cyan_med),("cyan","mid",phate_cyan_mid),
     ("cyan","dot",phate_cyan_dot),("blue","mid",phate_blue_mid),("blue","dot",phate_blue_dot),("red","med",phate_red_med),
     ("red","dot",phate_red_dot),("orange","mid",phate_orange_mid),("orange","dot",phate_orange_dot),("brown","dot",phate_brown_dot)],
    [("olive","big",mds_olive_big),("cyan","big",mds_cyan_big),("olive","mid",mds_olive_fringe),
     ("cyan","mid",mds_cyan_fringe),("olive","dot",mds_olive_dot),("cyan","dot",mds_cyan_dot),
     ("pink","mid",mds_pink_mid),("pink","dot",mds_pink_dot),("green","mid",mds_green_mid),("green","dot",mds_green_dot),
     ("gray","mid",mds_gray_mid),("gray","dot",mds_gray_dot),("purple","mid",mds_purple_mid),("purple","dot",mds_purple_dot),
     ("red","mid",mds_red_mid),("red","dot",mds_red_dot),("blue","mid",mds_blue_mid),("blue","dot",mds_blue_dot),
     ("orange","dot",mds_orange_dot),("cyan","dot",mds_cyan_mix)],
]

# marker diameters (px); the dense-core size depends on how tightly each panel's core points are spaced
BIG_SIZE = [23, 23, 22, 20, 20, 20]
SIZES = {"med": 13, "mid": 8, "dot": 4}

W, H = 2400, 400
PANEL_W = 354
PANEL_X0 = [40 + 397.4 * i for i in range(6)]
TOP, BOTTOM = 20, 360

fig = go.Figure()
for i, layers in enumerate(LAYERS):
    ax = "" if i == 0 else str(i + 1)
    for color, tier, pts in layers:
        size = BIG_SIZE[i] if tier == "big" else SIZES[tier]
        fig.add_trace(go.Scatter(
            x=[p[0] for p in pts], y=[p[1] for p in pts], mode="markers",
            xaxis="x" + ax, yaxis="y" + ax, showlegend=False, hoverinfo="skip",
            marker=dict(color=COLORS[color], size=size, line=dict(width=0))))

layout = dict(width=W, height=H, margin=dict(l=0, r=0, t=0, b=0), paper_bgcolor="white",
              plot_bgcolor="white", showlegend=False,
              font=dict(family="DejaVu Sans", size=20, color="black"))
annotations = []
for i, name in enumerate(PANEL_NAMES):
    ax = "" if i == 0 else str(i + 1)
    x0 = PANEL_X0[i] / W
    x1 = (PANEL_X0[i] + PANEL_W) / W
    common = dict(showline=True, mirror=True, linecolor="black", linewidth=1.3, ticks="",
                  showticklabels=False, showgrid=False, zeroline=False, fixedrange=True)
    layout["xaxis" + ax] = dict(domain=[x0, x1], range=[0.2, 106.2], anchor="y" + ax, **common)
    layout["yaxis" + ax] = dict(domain=[1 - BOTTOM / H, 1 - TOP / H], range=[102.3, 0.3], anchor="x" + ax, **common)
    annotations.append(dict(text=name + "1", xref="paper", yref="paper", x=(PANEL_X0[i] + PANEL_W / 2) / W,
                            y=1 - 374 / H, xanchor="center", yanchor="middle", showarrow=False,
                            font=dict(family="DejaVu Sans", size=20, color="black")))
    annotations.append(dict(text=name + "2", xref="paper", yref="paper", x=(PANEL_X0[i] - 15.5) / W,
                            y=1 - (TOP + BOTTOM) / 2 / H, xanchor="center", yanchor="middle", textangle=-90,
                            showarrow=False, font=dict(family="DejaVu Sans", size=20, color="black")))
layout["annotations"] = annotations
fig.update_layout(**layout)
fig.write_html("out.html")
